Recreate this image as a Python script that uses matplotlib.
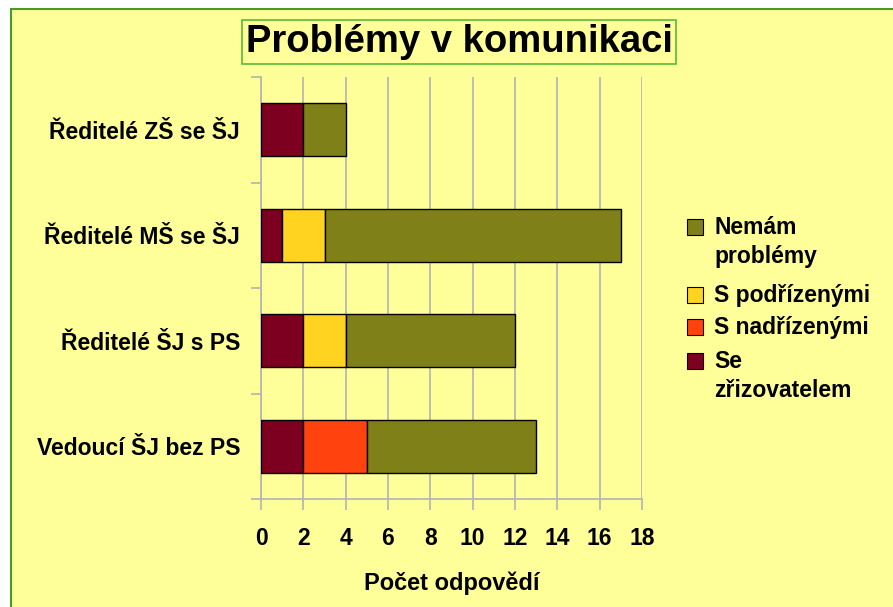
import matplotlib.pyplot as plt
import matplotlib.patches as mpatches
import numpy as np

plt.rcParams['font.family'] = ['Liberation Sans', 'DejaVu Sans']
plt.rcParams['font.weight'] = 'bold'

categories = ['Ředitelé ZŠ se ŠJ', 'Ředitelé MŠ se ŠJ', 'Ředitelé ŠJ s PS', 'Vedoucí ŠJ bez PS']
se_zrizovatelem = [2, 1, 2, 2]
s_nadrizenymi = [0, 0, 0, 3]
s_podrizenymi = [0, 2, 2, 0]
nemam_problemy = [2, 14, 8, 8]

series = [
    ('Se\nzřizovatelem', se_zrizovatelem, '#7e0021'),
    ('S nadřízenými', s_nadrizenymi, '#ff420e'),
    ('S podřízenými', s_podrizenymi, '#ffd320'),
    ('Nemám\nproblémy', nemam_problemy, '#808018'),
]

W, H = 893, 607
bg = '#ffff99'
fig = plt.figure(figsize=(W / 100, H / 100), dpi=100)
fig.patch.set_facecolor('white')
fig.patches.append(mpatches.Rectangle((11 / W, -0.1), 1.1, (H - 9) / H + 0.1,
                                      transform=fig.transFigure, facecolor=bg,
                                      edgecolor='#4a9a2c', linewidth=1.5, zorder=-10))

ax = fig.add_axes([261 / W, 1 - 499 / H, 381 / W, 422 / H])
ax.set_facecolor(bg)

y = np.arange(len(categories))
left = np.zeros(len(categories))
for name, vals, col in series:
    vals = np.array(vals, dtype=float)
    mask = vals > 0
    ax.barh(y[mask], vals[mask], left=left[mask], height=0.5, color=col,
            edgecolor='black', linewidth=1.0, zorder=3)
    left += vals

ax.set_xlim(0, 18)
ax.set_ylim(3.5, -0.5)
ax.set_xticks(np.arange(0, 19, 2))
ax.set_yticks(y)
ax.set_yticklabels(categories, fontsize=16.5, fontweight='bold')
ax.set_yticks(np.arange(-0.5, 4, 1), minor=True)
ax.tick_params(axis='y', which='major', length=0, pad=15)
ax.tick_params(axis='y', which='minor', length=7, color='#b3b3b3', width=1.2)
ax.tick_params(axis='x', length=8, color='#b3b3b3', width=1.2, pad=12, labelsize=16.5)
for lbl in ax.get_xticklabels():
    lbl.set_fontweight('bold')
ax.grid(axis='x', color='#b3b3b3', linewidth=1.2, zorder=0)
for s in ['top', 'right']:
    ax.spines[s].set_visible(False)
for s in ['left', 'bottom']:
    ax.spines[s].set_color('#b3b3b3')
    ax.spines[s].set_linewidth(1.2)

ax.set_xlabel('Počet odpovědí', fontsize=17, fontweight='bold', va='center')
ax.xaxis.set_label_coords(0.5, (499 - 583) / 422)

fig.text(459 / W, 1 - 42 / H, 'Problémy v komunikaci', fontsize=27.5, fontweight='bold',
         ha='center', va='center',
         bbox=dict(boxstyle='square,pad=0.1', facecolor=bg, edgecolor='#5cb83a', linewidth=1.2))

# legend drawn by hand so the swatch lines up with the first text line
legend_rows = [(s[0], s[2]) for s in series[::-1]]
legend_y = [228, 296, 328, 362]
for (name, col), ly in zip(legend_rows, legend_y):
    fig.patches.append(mpatches.Rectangle((687 / W, 1 - (ly + 7) / H), 16 / W, 16 / H,
                                          transform=fig.transFigure, facecolor=col,
                                          edgecolor='black', linewidth=0.8))
    fig.text(714 / W, 1 - (ly - 12) / H, name, fontsize=16.5, fontweight='bold',
             ha='left', va='top', linespacing=1.35)

fig.savefig('out.png', dpi=100, facecolor=fig.get_facecolor())
